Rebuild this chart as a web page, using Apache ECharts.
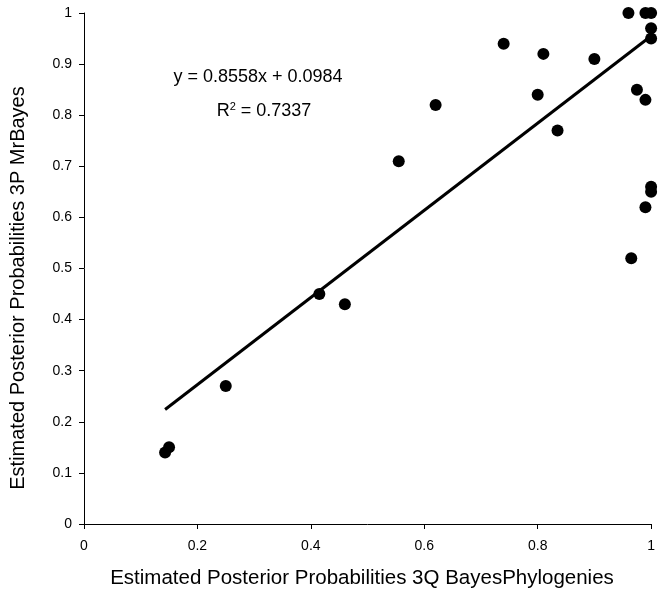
<!DOCTYPE html>
<html>
<head>
<meta charset="utf-8">
<script src="https://cdn.jsdelivr.net/npm/echarts@6/dist/echarts.min.js"></script>
<style>
  html, body { margin: 0; padding: 0; background: #fff; }
  #chart { width: 658px; height: 592px; }
</style>
</head>
<body>
<div id="chart"></div>
<script>
// values
const bayesPhyl = [0.143, 0.15, 0.25, 0.415, 0.46, 0.555, 0.62, 0.74, 0.80, 0.81, 0.835, 0.90,
                   0.96, 0.99, 1.0, 1.0, 1.0, 0.975, 0.99, 1.0, 1.0, 0.99, 0.965];
const mrBayes   = [0.14, 0.15, 0.27, 0.45, 0.43, 0.71, 0.82, 0.94, 0.84, 0.92, 0.77, 0.91,
                   1.0, 1.0, 1.0, 0.97, 0.95, 0.85, 0.83, 0.66, 0.65, 0.62, 0.52];
// trend line end points
const trendX = [0.143, 1.0];
const trendY = [0.224, 0.955];

const font = 'Liberation Sans, Arial, sans-serif';

let points = bayesPhyl.map((x, i) => [x, mrBayes[i]]);
let trend = trendX.map((x, i) => [x, trendY[i]]);

let myChart = echarts.init(document.getElementById('chart'));
myChart.setOption({
    animation: false,
    grid: {left: 84, right: 5, top: 13, bottom: 68},
    xAxis: {
        type: 'value',
        min: 0, max: 1, interval: 0.2,
        axisLine: {lineStyle: {color: '#000', width: 1}},
        axisTick: {show: true, inside: false, length: 5, lineStyle: {color: '#000'}},
        axisLabel: {color: '#000', fontSize: 14, fontFamily: font, margin: 15},
        splitLine: {show: false}
    },
    yAxis: {
        type: 'value',
        min: 0, max: 1, interval: 0.1,
        axisLine: {show: true, lineStyle: {color: '#000', width: 1}},
        axisTick: {show: true, inside: false, length: 5, lineStyle: {color: '#000'}},
        axisLabel: {color: '#000', fontSize: 14, fontFamily: font, margin: 12},
        splitLine: {show: false}
    },
    graphic: [
        {type: 'text', x: 362, y: 578,
         style: {text: 'Estimated Posterior Probabilities 3Q BayesPhylogenies', fill: '#000',
                 fontSize: 20.5, fontFamily: font, align: 'center', verticalAlign: 'middle'}},
        {type: 'text', x: 18, y: 288, rotation: Math.PI / 2,
         style: {text: 'Estimated Posterior Probabilities 3P MrBayes', fill: '#000',
                 fontSize: 20, fontFamily: font, align: 'center', verticalAlign: 'middle'}},
        {type: 'text', x: 258, y: 77,
         style: {text: 'y = 0.8558x + 0.0984', fill: '#000', fontSize: 18, fontFamily: font,
                 align: 'center', verticalAlign: 'middle'}},
        {type: 'text', x: 264, y: 111,
         style: {text: 'R{s|2} = 0.7337', fill: '#000', fontSize: 18, fontFamily: font,
                 align: 'center', verticalAlign: 'middle',
                 rich: {s: {fontSize: 11, fontFamily: font, padding: [0, 0, 9, 0]}}}}
    ],
    series: [
        {
            type: 'line',
            data: trend,
            symbol: 'none',
            lineStyle: {color: '#000', width: 3},
            z: 1
        },
        {
            type: 'scatter',
            data: points,
            symbolSize: 12,
            itemStyle: {color: '#000', opacity: 1},
            clip: false,
            z: 2
        }
    ]
});
</script>
</body>
</html>
